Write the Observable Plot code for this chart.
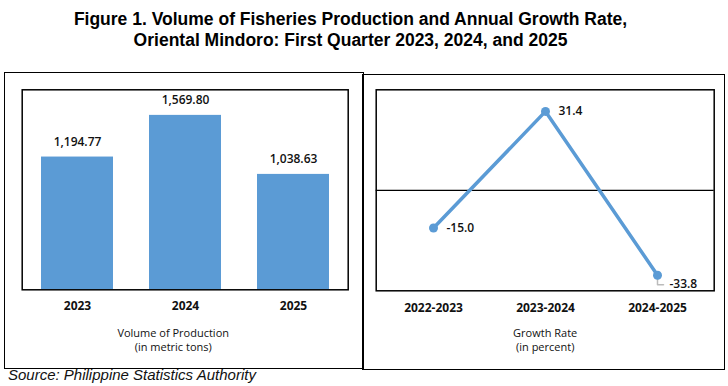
<!DOCTYPE html>
<html>
<head>
<meta charset="utf-8">
<script src="https://cdn.jsdelivr.net/npm/d3@7"></script>
<script src="https://cdn.jsdelivr.net/npm/@observablehq/plot@0.6"></script>
<style>
  html, body { margin: 0; padding: 0; background: #fff; }
  #root { position: relative; width: 728px; height: 386px; overflow: hidden; font-family: "Liberation Sans", Arial, sans-serif; }
  .title { position: absolute; left: 0; width: 701px; text-align: center; font-weight: bold; font-size: 17.5px; color: #000; white-space: nowrap; }
  .box { position: absolute; border: 1.5px solid #000; box-sizing: border-box; }
  .plot { position: absolute; }
  .source { position: absolute; left: 8px; top: 366px; font-style: italic; font-size: 15px; color: #111; }
</style>
</head>
<body>
<div id="root">
  <div class="title" style="top:9px">Figure 1. Volume of Fisheries Production and Annual Growth Rate,</div>
  <div class="title" style="top:30px">Oriental Mindoro: First Quarter 2023, 2024, and 2025</div>
  <div class="box" style="left:4px;top:72px;width:360px;height:297px"></div>
  <div class="box" style="left:362px;top:74px;width:363px;height:296px"></div>
  <div class="plot" id="left" style="left:0px;top:72px"></div>
  <div class="plot" id="right" style="left:362px;top:74px"></div>
  <div class="source">Source: Philippine Statistics Authority</div>
</div>
<script>
const years = ["2023", "2024", "2025"];
const volume = [1194.77, 1569.80, 1038.63];
const periods = ["2022-2023", "2023-2024", "2024-2025"];
const growth = [-15.0, 31.4, -33.8];

const blue = "#5b9bd5";
const font = "'Open Sans', 'Noto Sans', sans-serif";

const barData = years.map((y, i) => ({year: y, value: volume[i]}));
const lineData = periods.map((p, i) => ({period: p, value: growth[i]}));
const fmt1 = v => v.toFixed(1);

const segment = {draw(context, l) { context.moveTo(0, 0); context.lineTo(0, -l); }};

const left = Plot.plot({
  width: 364, height: 296,
  marginLeft: 21.7, marginRight: 16.3, marginTop: 17.3, marginBottom: 78.7,
  style: {fontFamily: font, background: "transparent", overflow: "visible"},
  x: {domain: years, paddingInner: 0.33, paddingOuter: 0.165, label: null},
  y: {domain: [0, 1800], axis: null},
  marks: [
    Plot.barY(barData, {x: "year", y: "value", fill: blue}),
    Plot.text(barData, {x: "year", y: "value", text: d => d3.format(",.2f")(d.value), dy: -15, fontSize: 12, fontWeight: 600, fill: "#111"}),
    Plot.frame({stroke: "#000", strokeWidth: 1.5}),
    Plot.axisX({tickSize: 0, tickPadding: 12, fontSize: 12, fontWeight: "bold", fill: "#111", label: null}),
    Plot.text(["Volume of Production"], {frameAnchor: "bottom", dy: 47, dx: -12, fontSize: 11, fill: "#111"}),
    Plot.text(["(in metric tons)"], {frameAnchor: "bottom", dy: 61.5, dx: -12, fontSize: 11, fill: "#111"})
  ]
});
document.getElementById("left").append(left);

const lastData = lineData.filter(d => d.value <= -30);
const right = Plot.plot({
  width: 364, height: 296,
  marginLeft: 13.7, marginRight: 12.3, marginTop: 15.3, marginBottom: 79.7,
  style: {fontFamily: font, background: "transparent", overflow: "visible"},
  x: {type: "point", domain: periods, padding: 0.5, label: null},
  y: {domain: [-40, 40], axis: null},
  marks: [
    Plot.ruleY([0], {stroke: "#000", strokeWidth: 1.2}),
    Plot.vector(lastData, {x: "period", y: "value", length: 5, rotate: 180, anchor: "start", dy: 4, shape: segment, stroke: "#bbb", strokeWidth: 1.5}),
    Plot.vector(lastData, {x: "period", y: "value", length: 6, rotate: 90, anchor: "start", dy: 9.5, shape: segment, stroke: "#bbb", strokeWidth: 1.5}),
    Plot.line(lineData, {x: "period", y: "value", stroke: blue, strokeWidth: 3.5}),
    Plot.dot(lineData, {x: "period", y: "value", r: 4.5, fill: blue}),
    Plot.text(lineData.filter(d => d.value > -30), {x: "period", y: "value", text: d => fmt1(d.value), textAnchor: "start", dx: 13, fontSize: 12, fontWeight: 600, fill: "#111"}),
    Plot.text(lastData, {x: "period", y: "value", text: d => fmt1(d.value), textAnchor: "start", dx: 12, dy: 9, fontSize: 12, fontWeight: 600, fill: "#111"}),
    Plot.frame({stroke: "#000", strokeWidth: 1.5}),
    Plot.axisX({tickSize: 0, tickPadding: 13, fontSize: 12, fontWeight: "bold", fill: "#111", label: null}),
    Plot.text(["Growth Rate"], {frameAnchor: "bottom", dy: 46, fontSize: 11, fill: "#111"}),
    Plot.text(["(in percent)"], {frameAnchor: "bottom", dy: 60.5, fontSize: 11, fill: "#111"})
  ]
});
document.getElementById("right").append(right);
</script>
</body>
</html>
